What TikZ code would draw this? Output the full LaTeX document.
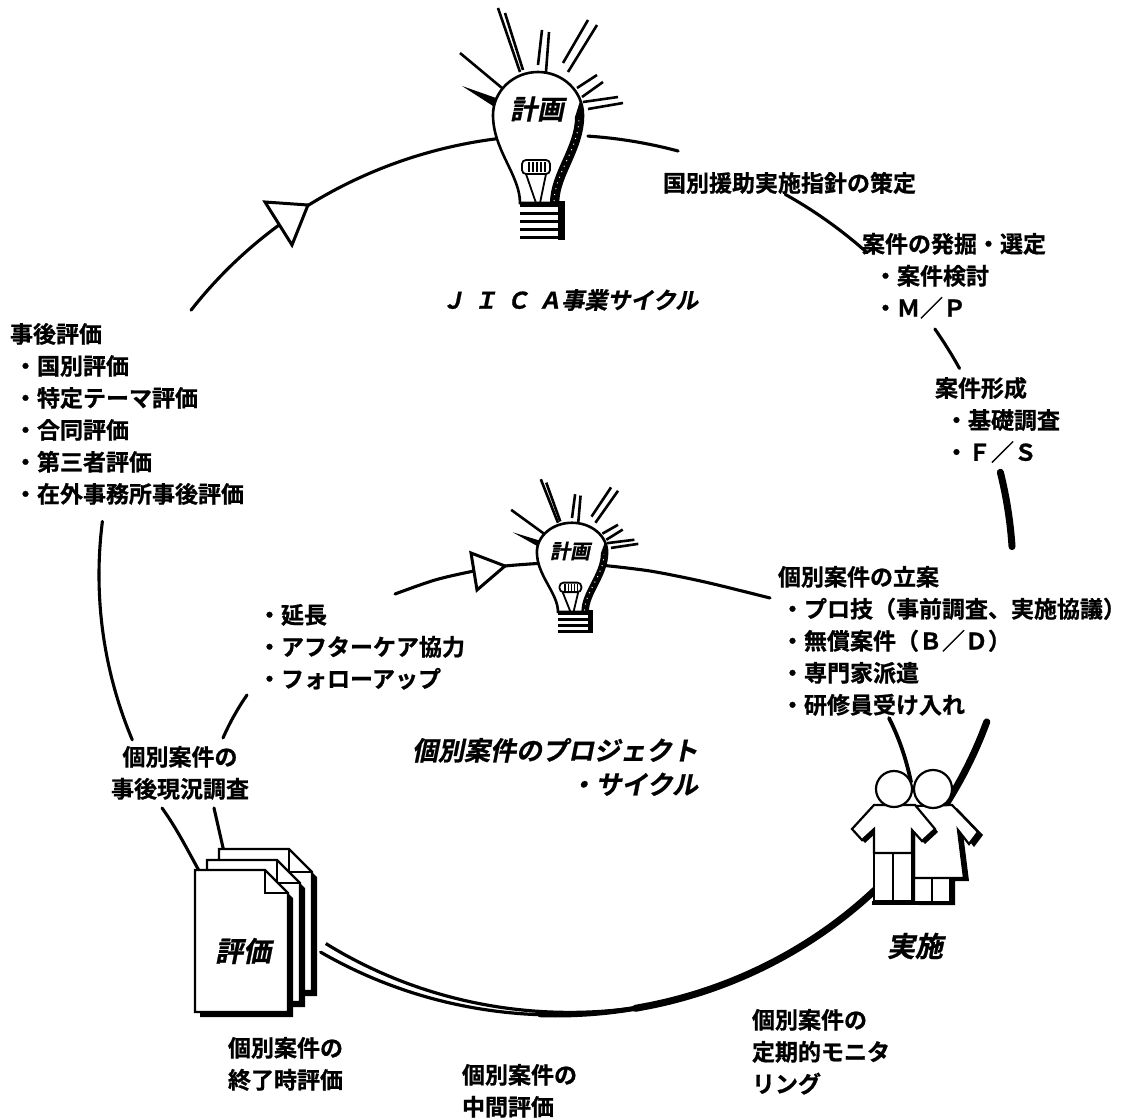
\documentclass[tikz,border=0pt]{standalone}
\usepackage{fontspec}
\IfFontExistsTF{Noto Sans CJK JP Bold}{%
  \setmainfont{Noto Sans CJK JP Bold}[FakeBold=0.8]%
  \newfontfamily\slantjp{Noto Sans CJK JP Bold}[FakeBold=0.8,FakeSlant=0.2]%
}{%
  \setmainfont{Noto Sans CJK JP}[FakeBold=2]%
  \newfontfamily\slantjp{Noto Sans CJK JP}[FakeBold=2,FakeSlant=0.2]%
}
\usetikzlibrary{calc}

\tikzset{
  cyc/.style={line width=3.1pt, line cap=round},
  heavy/.style={line width=7pt, line cap=round},
  ray/.style={line width=2.6pt},
  lbl/.style={inner sep=0pt, outer sep=0pt, align=left, anchor=north west,
              font=\fontsize{23}{32}\selectfont},
  ttl/.style={inner sep=0pt, outer sep=0pt, font=\slantjp\fontsize{26}{34}\selectfont},
  opentri/.style={line width=3pt, fill=white, line join=miter},
  fig/.style={line width=2.2pt, fill=white, line join=miter},
  sheet/.style={line width=2.2pt, fill=white, line join=miter},
}

% one segment of the large cycle (parametric angle, clockwise on the page)
\newcommand\outerarc[3][]{\draw[cyc,#1] plot[smooth,domain=#2:#3,samples=30]
  ({556+457*cos(\x)},{575+440*sin(\x)});}

% light bulb drawn around the centre of its glass
% #1 = heights of the base stripes, #2 = lower edge of the base
\newcommand\lightbulb[2]{%
  \draw[ray] (-40,-107) -- (-18,-43);
  \draw[ray] (-33,-102) -- (-15,-45);
  \draw[ray] (4,-85) -- (0,-50);
  \draw[ray] (11,-83) -- (8,-43);
  \draw[ray] (50,-95) -- (25,-52);
  \draw[ray] (59,-90) -- (30,-43);
  \draw[ray] (59,-40) -- (39,-27);
  \draw[ray] (65,-33) -- (44,-18);
  \draw[ray] (80,-18) -- (45,-13);
  \draw[ray] (85,-12) -- (50,-6);
  \draw[ray] (-78,-62) -- (-36,-27);
  \fill (-76,-29) -- (-42,-17) -- (-45,-9) -- cycle;
  \draw[line width=2.6pt, fill=white] (-18,88) .. controls (-18,60) and (-45,35) .. (-45,0)
     arc[start angle=180, end angle=360, x radius=45, y radius=43]
     .. controls (45,35) and (20,60) .. (20,88) -- cycle;
  \fill (340:45 and 43) arc[start angle=340, end angle=360, x radius=45, y radius=43]
     .. controls (45,35) and (20,60) .. (20,88) -- (12,88)
     .. controls (12,58) and (37,32) .. (37,2) -- cycle;
  \draw[white, line width=1pt, dash pattern=on 1pt off 5pt] (16,86) .. controls (17,58) and (41,33) .. (41,3);
  \draw[line width=1.8pt, fill=white, rounded corners=4pt] (-16,45) rectangle (12,59);
  \foreach \xx in {-9,-5,-1,3,7} \draw[line width=1.1pt] (\xx,47) -- (\xx,57);
  \draw[line width=1.8pt] (-12,59) -- (-2,88);
  \draw[line width=1.8pt] (8,59) -- (2,88);
  \foreach \yy in {#1} \draw[line width=3pt] (-18,\yy) -- (27,\yy);
  \fill (20,86) rectangle (27,#2);
}

% one sheet of paper with a folded corner and a cast shadow
\newcommand\docsheet[2]{%
  \fill ($(#1,#2)+(5,5)$) -- ++(70,0) -- ++(23,23) -- ++(0,119) -- ++(-93,0) -- cycle;
  \draw[sheet] (#1,#2) -- ++(70,0) -- ++(23,23) -- ++(0,119) -- ++(-93,0) -- cycle;
  \draw[line width=2.2pt, line join=miter] ($(#1,#2)+(70,0)$) -- ++(0,23) -- ++(23,0);
}

\begin{document}
\begin{tikzpicture}[x=1pt, y=-1pt]
\fill[white] (0,0) rectangle (1133,1118);
\useasboundingbox (0,0) rectangle (1133,1118);

% ---------------- large cycle ----------------
\outerarc{217}{263}
\outerarc{274}{285.5}
\outerarc{300.1}{312.9}
\outerarc{326}{332}
\outerarc[heavy]{346.5}{356.3}
\outerarc[heavy]{19.5}{80}
\outerarc[line width=5pt]{78}{92}
\outerarc[line width=3.2pt]{90}{121}
\outerarc{158}{187}
% inner strand that splits from the heavy line towards the reports
\draw[line width=3.2pt] plot[smooth,domain=78:121,samples=30]
  ({556+(457-10*(\x-78)/43)*cos(\x)},{575+(440-10*(\x-78)/43)*sin(\x)});

\coordinate (oa1) at (162,808);
\coordinate (oa2) at (202,876);
\draw[cyc] (oa1) .. controls (178,830) and (190,855) .. (oa2);

% arrowhead on the large cycle
\coordinate (ta) at (308,205);
\coordinate (tb) at (265,202);
\coordinate (tc) at (292,245);
\draw[opentri] (ta) -- (tb) -- (tc) -- cycle;

% ---------------- project cycle ----------------
\coordinate (ia1) at (214,808);
\coordinate (ia2) at (224,852);
\draw[cyc] (ia1) -- (ia2);
\draw[cyc] (223,738) .. controls (230,722) and (238,708) .. (247,695);
\draw[cyc] plot[smooth] coordinates {(395,594) (435,580) (474,571) (505,566) (545,563)};
\draw[cyc] plot[smooth] coordinates {(600,565) (650,571) (705,582) (770,598)};
\draw[line width=3.8pt, line cap=round] (889,718) .. controls (899,738) and (906,758) .. (911,782);

\coordinate (tia) at (505,566);
\coordinate (tib) at (471,553);
\coordinate (tic) at (477,590);
\draw[opentri] (tia) -- (tib) -- (tic) -- cycle;

% ---------------- bulbs ----------------
\begin{scope}[shift={(538,115)}]
  \lightbulb{91,99,107,115,123}{125}
\end{scope}
\begin{scope}[shift={(572,552)}, xscale=0.78, yscale=0.68]
  \lightbulb{90,99,108,117}{119}
\end{scope}

% ---------------- two people ----------------
\fill[shift={(5,3)}] (914,806) -- (952,805) -- (978,832) -- (969,844) -- (958,830)
   -- (964,878) -- (950,878) -- (950,902) -- (914,902) -- cycle;
\draw[fig] (913,878) rectangle (950,902);
\draw[line width=1.6pt] (932,878) -- (932,902);
\draw[fig] (914,806) -- (952,805) -- (978,832) -- (969,844) -- (958,830) -- (964,878) -- (914,878) -- cycle;
\draw[fig] (933,789) circle[radius=19];
\fill[shift={(3,3)}] (874,805) -- (852,829) -- (862,840) -- (874,829) -- (874,901) -- (912,901)
   -- (912,830) -- (922,841) -- (935,829) -- (915,805) -- cycle;
\draw[fig] (874,853) rectangle (912,901);
\draw[line width=1.6pt] (893,853) -- (893,901);
\draw[fig] (874,805) -- (852,829) -- (862,840) -- (874,829) -- (874,853) -- (912,853)
   -- (912,830) -- (922,841) -- (935,829) -- (915,805) -- cycle;
\draw[fig] (894,789) circle[radius=18];
\draw[line width=4pt] (872,903) -- (955,903);

% ---------------- reports ----------------
\docsheet{219}{849}
\docsheet{207}{860}
\docsheet{195}{870}

% ---------------- labels ----------------
\node[ttl, font=\slantjp\fontsize{27}{30}\selectfont] (plan1) at (537,109) {計画};
\node[ttl, font=\slantjp\fontsize{20}{24}\selectfont] (plan2) at (570,551) {計画};
\node[ttl, font=\slantjp\fontsize{28}{30}\selectfont] (evalx) at (243,951) {評価};
\node[ttl, font=\slantjp\fontsize{28}{30}\selectfont] (impl) at (915,946) {実施};

\node[ttl, font=\slantjp\fontsize{23}{30}\selectfont] (jica) at (570,300)
  {Ｊ\hspace{.4em}Ｉ\hspace{.4em}Ｃ\hspace{.4em}Ａ事業サイクル};
\node[ttl, align=right, anchor=north east] (pcycle) at (698,738)
  {個別案件のプロジェクト\\・サイクル};

\node[lbl] (shishin) at (663,172) {国別援助実施指針の策定};
\node[lbl] (hakkutsu) at (862,233)
  {案件の発掘・選定\\\hspace*{12pt}・案件検討\\\hspace*{12pt}・Ｍ／Ｐ};
\node[lbl] (keisei) at (935,377)
  {案件形成\\\hspace*{10pt}・基礎調査\\\hspace*{10pt}・Ｆ／Ｓ};
\node[lbl] (jigo) at (10,323)
  {事後評価\\\hspace*{4pt}・国別評価\\\hspace*{4pt}・特定テーマ評価\\\hspace*{4pt}・合同評価\\\hspace*{4pt}・第三者評価\\\hspace*{4pt}・在外事務所事後評価};
\node[lbl] (ritsuan) at (778,566)
  {個別案件の立案\\\hspace*{3pt}・プロ技（事前調査、実施協議）\\\hspace*{3pt}・無償案件（Ｂ／Ｄ）\\\hspace*{3pt}・専門家派遣\\\hspace*{3pt}・研修員受け入れ};
\node[lbl] (encho) at (258,604) {・延長\\・アフターケア協力\\・フォローアップ};
\node[lbl, align=center, anchor=north] (genkyo) at (180,746) {個別案件の\\事後現況調査};
\node[lbl] (shuryo) at (228,1037) {個別案件の\\終了時評価};
\node[lbl] (chukan) at (462,1064) {個別案件の\\中間評価};
\node[lbl] (teiki) at (752,1009) {個別案件の\\定期的モニタ\\リング};
\end{tikzpicture}
\end{document}
